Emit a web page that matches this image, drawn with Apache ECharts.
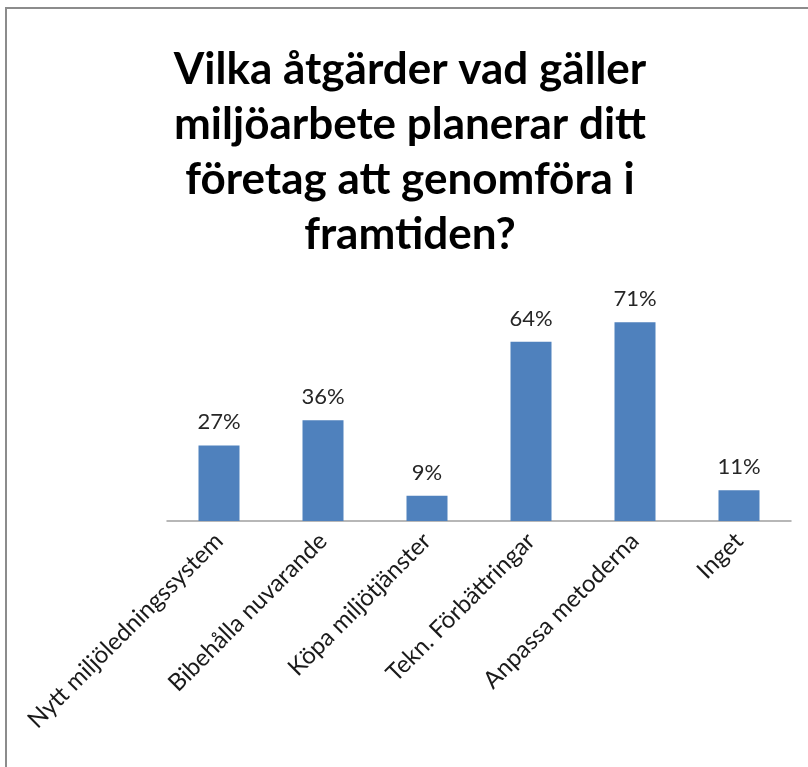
<!DOCTYPE html>
<html>
<head>
<meta charset="utf-8">
<script src="https://cdn.jsdelivr.net/npm/echarts@6/dist/echarts.min.js"></script>
<style>
  html, body { margin: 0; padding: 0; background: #fff; }
  #chart { width: 808px; height: 767px; }
</style>
</head>
<body>
<div id="chart"></div>
<script>
// data
const categories = [
  'Nytt miljöledningssystem',
  'Bibehålla nuvarande',
  'Köpa miljötjänster',
  'Tekn. Förbättringar',
  'Anpassa metoderna',
  'Inget'
]
const percents = [27, 36, 9, 64, 71, 11]
const chartTitle = 'Vilka åtgärder vad gäller\nmiljöarbete planerar ditt\nföretag att genomföra i\nframtiden?'

const myChart = echarts.init(document.getElementById('chart'))
const option = {
  backgroundColor: '#fff',
  animation: false,
  // frame of the original chart area
  graphic: [
    {
      type: 'rect',
      shape: { x: 6, y: 8, width: 900, height: 900 },
      style: { fill: 'none', stroke: '#8c8c8c', lineWidth: 2 }
    }
  ],
  title: {
    text: chartTitle,
    left: 410,
    top: 42,
    textAlign: 'center',
    padding: 0,
    textStyle: {
      fontFamily: 'Lato',
      fontWeight: 'bold',
      fontSize: 44,
      lineHeight: 55,
      color: '#000'
    }
  },
  grid: {
    left: 167,
    right: 17,
    top: 241,
    bottom: 246,
    containLabel: false
  },
  xAxis: {
    type: 'category',
    data: categories,
    axisLine: { lineStyle: { color: '#a0a0a0', width: 1.5 } },
    axisTick: { show: false },
    axisLabel: {
      interval: 0,
      rotate: 45,
      margin: 16,
      fontFamily: 'Lato',
      fontSize: 24,
      color: '#1a1a1a'
    }
  },
  yAxis: {
    type: 'value',
    min: 0,
    max: 100,
    show: false,
    splitLine: { show: false }
  },
  series: [
    {
      type: 'bar',
      data: percents,
      barWidth: 41,
      itemStyle: { color: '#4f81bd' },
      label: {
        show: true,
        position: 'top',
        distance: 12,
        formatter: function (p) {
          return p.value + '%'
        },
        fontFamily: 'Lato',
        fontSize: 22,
        color: '#262626'
      }
    }
  ]
}
myChart.setOption(option)
</script>
</body>
</html>
